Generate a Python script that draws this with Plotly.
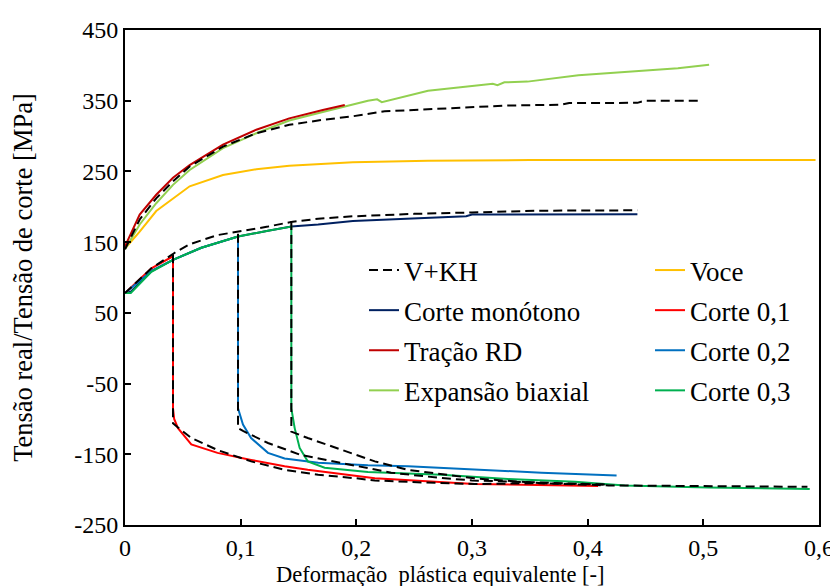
import plotly.graph_objects as go

# ---------------- data (strain [-], stress [MPa]) ----------------
vkh_up_x = [0, 0.0127, 0.027, 0.0415, 0.0559, 0.0847, 0.1135, 0.142, 0.171, 0.197, 0.2245, 0.262, 0.30, 0.328, 0.377, 0.384, 0.443, 0.449, 0.498]
vkh_up_y = [140, 182, 212, 236, 257, 285, 304, 316, 323, 328, 335, 338, 340.6, 343, 344.4, 346.8, 347, 350, 350]

vkh_mono_x = [0, 0.0228, 0.043, 0.0559, 0.08, 0.1236, 0.145, 0.167, 0.197, 0.25, 0.30, 0.36, 0.443]
vkh_mono_y = [78, 113, 135, 147, 160, 172, 179, 183, 186.5, 190, 192, 194.5, 195]

vkh_r1_x = [0.0415, 0.0415, 0.0458, 0.0573, 0.08, 0.109, 0.138, 0.167, 0.20, 0.216, 0.26, 0.302, 0.36, 0.418]
vkh_r1_y = [133, -106, -112, -127, -144, -160, -172, -179, -184, -187, -190, -192, -191, -193]

vkh_r2_x = [0.0977, 0.0977, 0.102, 0.1236, 0.152, 0.196, 0.23, 0.27, 0.30, 0.36, 0.418]
vkh_r2_y = [162, -113, -117, -134, -151, -165, -176, -183, -187, -190, -193]

vkh_r3_x = [0.1438, 0.1438, 0.158, 0.187, 0.216, 0.2447, 0.302, 0.36, 0.418, 0.50, 0.59]
vkh_r3_y = [180, -118, -127, -144, -160, -172, -184, -191, -194, -195, -196]

voce_x = [0, 0.0127, 0.027, 0.0415, 0.0559, 0.0847, 0.1135, 0.142, 0.171, 0.197, 0.262, 0.35, 0.597]
voce_y = [141, 165, 194, 212, 229, 245, 253, 258, 261, 263, 265, 266, 266]

mono_x = [0, 0.005, 0.0228, 0.0415, 0.066, 0.0977, 0.1236, 0.1438, 0.167, 0.197, 0.295, 0.30, 0.443]
mono_y = [78, 80, 109, 125, 142, 158, 166, 172, 175, 180, 186.5, 189, 189.5]

c01_x = [0, 0.0228, 0.0415, 0.0415, 0.0425, 0.0458, 0.0573, 0.08, 0.109, 0.138, 0.158, 0.181, 0.216, 0.302, 0.403, 0.409]
c01_y = [78, 113, 130, -85, -100, -113, -136, -148, -158, -167, -172, -177, -184, -192, -195, -195]

tracao_x = [0, 0.0127, 0.027, 0.0415, 0.0559, 0.0847, 0.1135, 0.142, 0.171, 0.19]
tracao_y = [144, 189, 217, 241, 259, 288, 309, 325, 337, 344]

c02_x = [0, 0.0228, 0.0415, 0.066, 0.0977, 0.0977, 0.102, 0.109, 0.1236, 0.138, 0.167, 0.21, 0.2447, 0.302, 0.36, 0.425]
c02_y = [78, 109, 125, 142, 158, -85, -108, -127, -148, -156, -162, -165.6, -167, -172, -176, -180]

biax_x = [0, 0.0127, 0.027, 0.0415, 0.0559, 0.0847, 0.1135, 0.142, 0.171, 0.197, 0.21, 0.218, 0.222, 0.262, 0.305, 0.318, 0.322, 0.328, 0.348, 0.392, 0.435, 0.478, 0.505]
biax_y = [140, 175, 205, 231, 252, 283, 304, 322, 334, 345, 350, 352, 348, 364, 372, 374, 372, 376, 377, 386, 391, 396, 401]

c03_x = [0, 0.005, 0.0228, 0.0415, 0.066, 0.0977, 0.1236, 0.1438, 0.1438, 0.1467, 0.151, 0.158, 0.1726, 0.21, 0.2735, 0.331, 0.389, 0.432, 0.504, 0.57, 0.592]
c03_y = [78, 78, 108, 125, 142, 158, 166, 172, -85, -113, -141, -160, -169, -175, -179, -185, -189, -194, -197, -199, -199]

x_ticks = [0, 0.1, 0.2, 0.3, 0.4, 0.5, 0.6]
x_ticklabels = ["0", "0,1", "0,2", "0,3", "0,4", "0,5", "0,6"]
y_ticks = [-250, -150, -50, 50, 150, 250, 350, 450]
y_ticklabels = ["-250", "-150", "-50", "50", "150", "250", "350", "450"]

x_title = "Deformação  plástica equivalente [-]"
y_title = "Tensão real/Tensão de corte [MPa]"

# V+KH model: all segments in one trace, separated by gaps
vkh_x, vkh_y = [], []
for sx, sy in [(vkh_up_x, vkh_up_y), (vkh_mono_x, vkh_mono_y), (vkh_r1_x, vkh_r1_y),
               (vkh_r2_x, vkh_r2_y), (vkh_r3_x, vkh_r3_y)]:
    vkh_x += sx + [None]
    vkh_y += sy + [None]

FONT = "Times New Roman"
W = 2

fig = go.Figure()

def add(x, y, name, color, legend, dash=None, order=0):
    fig.add_trace(go.Scatter(
        x=x, y=y, mode="lines", name=name, legend=legend,
        line=dict(color=color, width=W, dash=dash),
        legendgroup=name, legendrank=order, connectgaps=False,
        hoverinfo="skip"))

add(voce_x, voce_y, "Voce", "#FFC000", "legend2", order=1)
add(mono_x, mono_y, "Corte monótono", "#002060", "legend", order=2)
add(biax_x, biax_y, "Expansão biaxial", "#92D050", "legend", order=4)
add(tracao_x, tracao_y, "Tração RD", "#C00000", "legend", order=3)
add(c01_x, c01_y, "Corte 0,1", "#FF0000", "legend2", order=2)
add(c02_x, c02_y, "Corte 0,2", "#0070C0", "legend2", order=3)
add(c03_x, c03_y, "Corte 0,3", "#00B050", "legend2", order=4)
add(vkh_x, vkh_y, "V+KH", "black", "legend", dash="9px,5px", order=1)

legend_common = dict(
    font=dict(family=FONT, size=27, color="black"),
    bgcolor="rgba(0,0,0,0)", traceorder="grouped", tracegroupgap=2,
    yanchor="top", xanchor="left", itemwidth=30)

fig.update_layout(
    width=838, height=586,
    margin=dict(l=117, r=27, t=22, b=69),
    paper_bgcolor="white", plot_bgcolor="white",
    font=dict(family=FONT, size=24, color="black"),
    legend=dict(x=(356 - 117) / 694, y=(517 - 238) / 495, **legend_common),
    legend2=dict(x=(642 - 117) / 694, y=(517 - 238) / 495, **legend_common),
    xaxis=dict(
        range=[0, 0.6], tickvals=x_ticks, ticktext=x_ticklabels,
        ticks="inside", ticklen=6, tickwidth=1.5,
        tickcolor="black", showline=True, linecolor="black", linewidth=2, mirror=True,
        showgrid=False, zeroline=False, ticklabelstandoff=0, automargin=False,
        tickfont=dict(family=FONT, size=24)),
    yaxis=dict(
        range=[-250, 450], tickvals=y_ticks, ticktext=y_ticklabels,
        ticks="inside", ticklen=6, tickwidth=1.5,
        tickcolor="black", showline=True, linecolor="black", linewidth=2, mirror=True,
        showgrid=False, zeroline=False, automargin=False,
        tickfont=dict(family=FONT, size=24),
        title=dict(text=y_title, standoff=38, font=dict(family=FONT, size=26.5))),
    annotations=[dict(
        text=x_title, xref="paper", yref="paper",
        x=(432 - 117) / 694, y=(517 - 566) / 495, xanchor="center", yanchor="middle",
        showarrow=False, font=dict(family=FONT, size=22.5, color="black"))],
)

fig.write_html("out.html")
